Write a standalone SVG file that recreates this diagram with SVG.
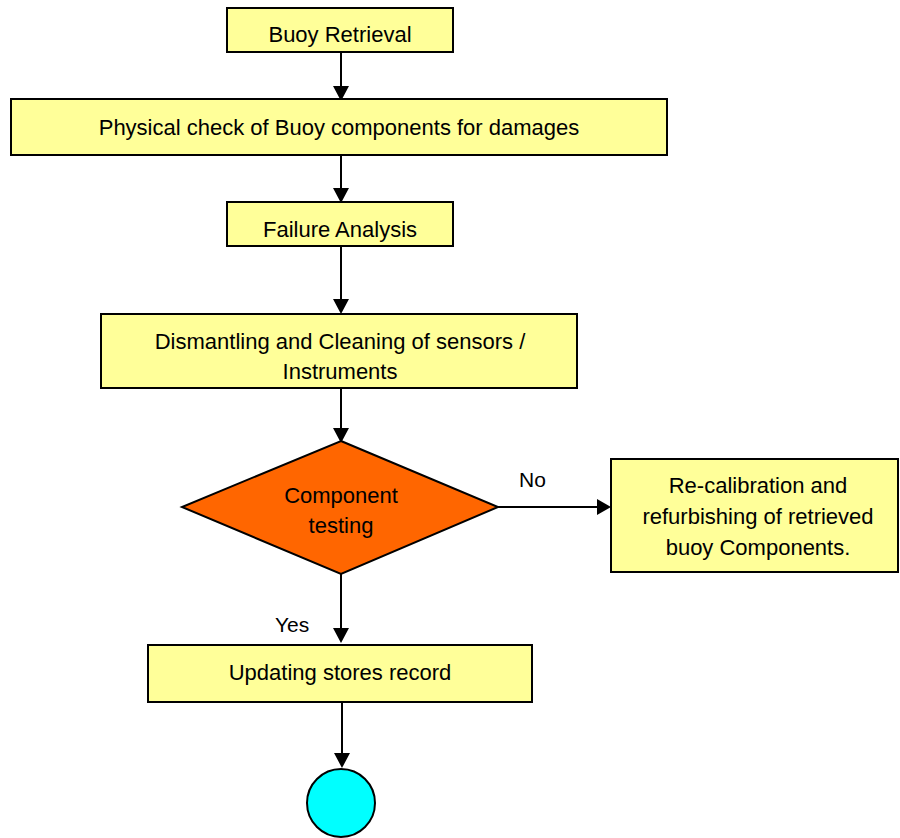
<svg xmlns="http://www.w3.org/2000/svg" width="900" height="838" viewBox="0 0 900 838">
<style>
.box{fill:#ffff99;stroke:#000;stroke-width:2}
.t{font-family:"Liberation Sans",Arial,sans-serif;font-size:22px;fill:#000;text-anchor:middle}
.l{font-family:"Liberation Sans",Arial,sans-serif;font-size:21px;fill:#000}
.ln{stroke:#000;stroke-width:2;fill:none}
</style>
<rect width="900" height="838" fill="#fff"/>
<g id="connectors">
<line class="ln" x1="341" y1="53" x2="341" y2="90"/>
<path d="M333,86 L349,86 L341,101 Z"/>
<line class="ln" x1="341" y1="155" x2="341" y2="190"/>
<path d="M333,188 L349,188 L341,203 Z"/>
<line class="ln" x1="341" y1="247" x2="341" y2="300"/>
<path d="M333,299 L349,299 L341,314 Z"/>
<line class="ln" x1="341" y1="388" x2="341" y2="430"/>
<path d="M333,428 L349,428 L341,443 Z"/>
<line class="ln" x1="341" y1="574" x2="341" y2="630"/>
<path d="M333,628 L349,628 L341,643 Z"/>
<line class="ln" x1="498" y1="507" x2="600" y2="507"/>
<path d="M597,499 L597,515 L611,507 Z"/>
<line class="ln" x1="342" y1="702" x2="342" y2="755"/>
<path d="M334,753 L350,753 L342,768 Z"/>
<text class="l" x="519" y="487">No</text>
<text class="l" x="275" y="632">Yes</text>
</g>
<g id="n1"><rect class="box" x="227" y="8" width="226" height="44"/><text class="t" x="340" y="42">Buoy Retrieval</text></g>
<g id="n2"><rect class="box" x="11" y="99" width="656" height="56"/><text class="t" x="339" y="135">Physical check of Buoy components for damages</text></g>
<g id="n3"><rect class="box" x="227" y="202" width="226" height="44"/><text class="t" x="340" y="237">Failure Analysis</text></g>
<g id="n4"><rect class="box" x="101" y="314" width="476" height="74"/><text class="t" x="340" y="349">Dismantling and Cleaning of sensors /</text><text class="t" x="340" y="379">Instruments</text></g>
<g id="n5"><path d="M341,441 L498,507 L341,574 L182,507 Z" fill="#ff6600" stroke="#000" stroke-width="2"/><text class="t" x="341" y="503">Component</text><text class="t" x="341" y="533">testing</text></g>
<g id="n6"><rect class="box" x="611" y="459" width="287" height="113"/><text class="t" x="758" y="493">Re-calibration and</text><text class="t" x="758" y="524">refurbishing of retrieved</text><text class="t" x="758" y="555">buoy Components.</text></g>
<g id="n7"><rect class="box" x="148" y="645" width="384" height="57"/><text class="t" x="340" y="680">Updating stores record</text></g>
<g id="n8"><circle cx="341" cy="803" r="34" fill="#00ffff" stroke="#000" stroke-width="2"/></g>
</svg>
